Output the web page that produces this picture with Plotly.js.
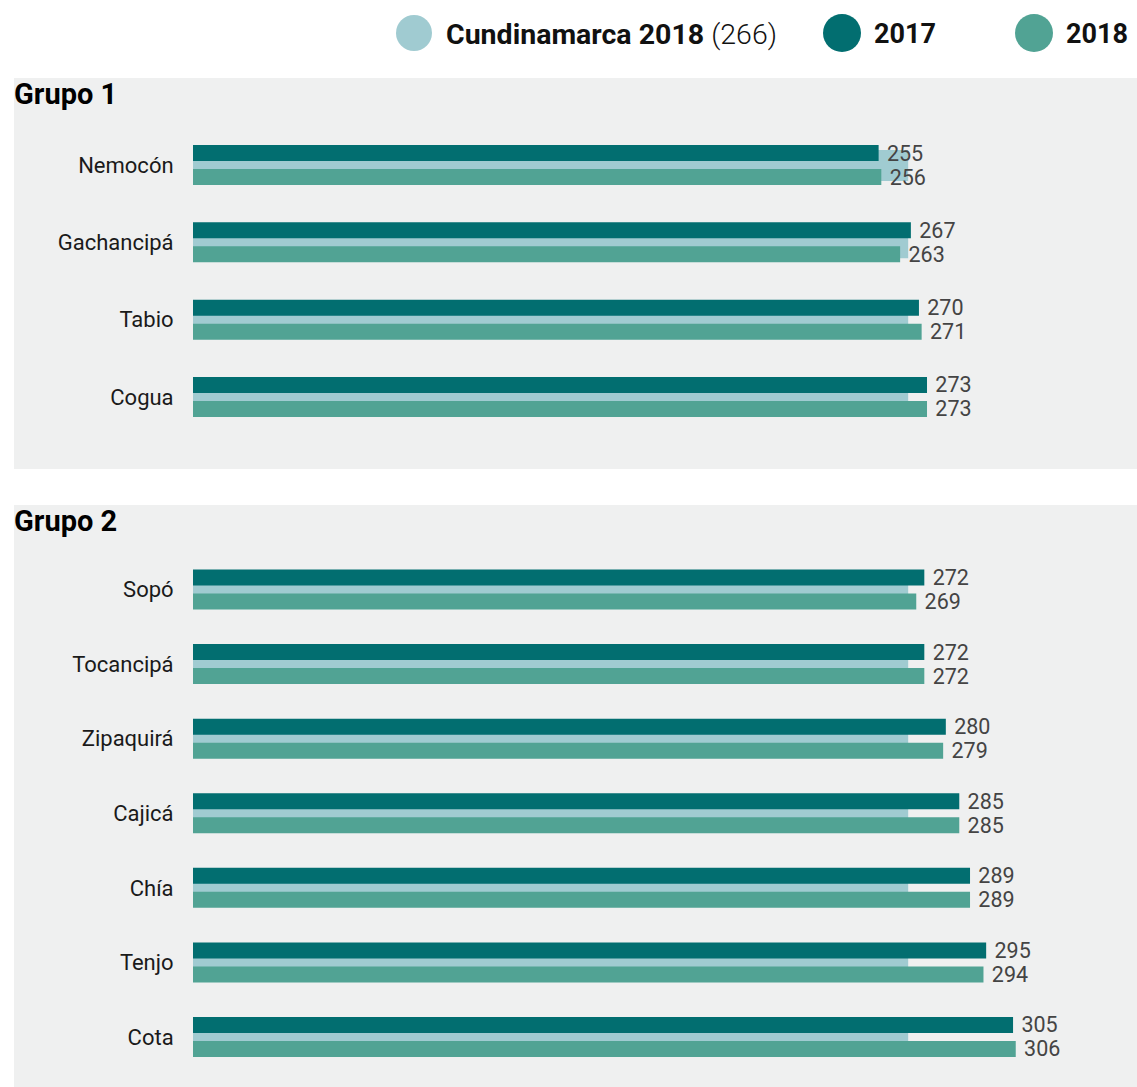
<!DOCTYPE html>
<html><head><meta charset="utf-8">
<script src="https://cdn.plot.ly/plotly-3.0.1.min.js"></script>
<style>html,body{margin:0;padding:0;background:#fff}</style>
</head><body><div id="chart" style="width:1137px;height:1087px"></div>
<script>
// ---- data ----
const group1Names = ['Nemocón', 'Gachancipá', 'Tabio', 'Cogua'];
const group1_2017 = [255, 267, 270, 273];
const group1_2018 = [256, 263, 271, 273];
const group1_cund = [266, 266, 266, 266];

const group2Names = ['Sopó', 'Tocancipá', 'Zipaquirá', 'Cajicá', 'Chía', 'Tenjo', 'Cota'];
const group2_2017 = [272, 272, 280, 285, 289, 295, 305];
const group2_2018 = [269, 272, 279, 285, 289, 294, 306];
const group2_cund = [266, 266, 266, 266, 266, 266, 266];

const cundLabel = 'Cundinamarca 2018';
const cundValue = 266;
const seriesNames = ['2017', '2018'];
const groupTitles = ['Grupo 1', 'Grupo 2'];

// ---- style ----
const W = 1137, H = 1087;
const C_DARK = '#026e70', C_MED = '#51a394', C_LIGHT = '#a0cbd1';
const BG = '#eff0f0';
const FONT = 'Roboto, "Noto Sans", sans-serif';

function py(p) { return 1 - p / H; }
function px(p) { return p / W; }

// panel geometry in pixels
const P1 = {top: 120, bottom: 440, c0: 165, step: 77.33};
const P2 = {top: 540, bottom: 1080, c0: 589.5, step: 74.58};

function makeTraces(names, v17, v18, vc, yax, P) {
  const u = P.step;
  const common = {type: 'bar', orientation: 'h', y: names, xaxis: 'x', yaxis: yax,
    hoverinfo: 'skip', cliponaxis: false, constraintext: 'none'};
  const tf = {family: FONT, size: 21.5, color: '#444'};
  return [
    Object.assign({}, common, {x: vc, name: cundLabel, marker: {color: C_LIGHT},
      width: 31 / u, offset: -15 / u}),
    Object.assign({}, common, {x: v17, name: seriesNames[0], marker: {color: C_DARK},
      width: 16 / u, offset: -20 / u, texttemplate: '\u00a0%{x}', textposition: 'outside',
      textfont: tf, outsidetextfont: tf}),
    Object.assign({}, common, {x: v18, name: seriesNames[1], marker: {color: C_MED},
      width: 16 / u, offset: 4 / u, texttemplate: '\u00a0%{x}', textposition: 'outside',
      textfont: tf, outsidetextfont: tf})
  ];
}

function yAxis(names, P) {
  return {
    type: 'category', categoryarray: names, categoryorder: 'array',
    domain: [py(P.bottom), py(P.top)],
    range: [(P.bottom - P.c0) / P.step, (P.top - P.c0) / P.step],
    anchor: 'x', showgrid: false, zeroline: false, showline: false,
    ticks: 'outside', ticklen: 14, tickcolor: 'rgba(0,0,0,0)',
    tickfont: {family: FONT, size: 22, color: '#1a1a1a'}, fixedrange: true
  };
}

const data = [].concat(
  makeTraces(group1Names, group1_2017, group1_2018, group1_cund, 'y', P1),
  makeTraces(group2Names, group2_2017, group2_2018, group2_cund, 'y2', P2)
);

const shapes = [
  {type: 'rect', xref: 'paper', yref: 'paper', x0: px(14), x1: 1, y0: py(469), y1: py(78),
   fillcolor: BG, line: {width: 0}, layer: 'below'},
  {type: 'rect', xref: 'paper', yref: 'paper', x0: px(14), x1: 1, y0: py(1087), y1: py(505),
   fillcolor: BG, line: {width: 0}, layer: 'below'},
  {type: 'circle', xref: 'paper', yref: 'paper', x0: px(396), x1: px(432), y0: py(51), y1: py(15),
   fillcolor: C_LIGHT, line: {width: 0}},
  {type: 'circle', xref: 'paper', yref: 'paper', x0: px(823), x1: px(861), y0: py(52), y1: py(14),
   fillcolor: C_DARK, line: {width: 0}},
  {type: 'circle', xref: 'paper', yref: 'paper', x0: px(1015), x1: px(1053), y0: py(52), y1: py(14),
   fillcolor: C_MED, line: {width: 0}}
];

const legFont = {family: FONT, size: 27, color: '#111'};
const annotations = [
  {xref: 'paper', yref: 'paper', x: px(444), y: py(34), xanchor: 'left', yanchor: 'middle',
   showarrow: false, font: {family: FONT, size: 28.5, color: '#111'},
   text: '<b>' + cundLabel + '</b> <span style="font-weight:300">(' + cundValue + ')</span>'},
  {xref: 'paper', yref: 'paper', x: px(872), y: py(34), xanchor: 'left', yanchor: 'middle',
   showarrow: false, font: legFont, text: '<b>' + seriesNames[0] + '</b>'},
  {xref: 'paper', yref: 'paper', x: px(1064), y: py(34), xanchor: 'left', yanchor: 'middle',
   showarrow: false, font: legFont, text: '<b>' + seriesNames[1] + '</b>'},
  {xref: 'paper', yref: 'paper', x: px(12), y: py(94), xanchor: 'left', yanchor: 'middle',
   showarrow: false, font: {family: FONT, size: 29, color: '#000'}, text: '<b>' + groupTitles[0] + '</b>'},
  {xref: 'paper', yref: 'paper', x: px(12), y: py(521), xanchor: 'left', yanchor: 'middle',
   showarrow: false, font: {family: FONT, size: 29, color: '#000'}, text: '<b>' + groupTitles[1] + '</b>'}
];

const layout = {
  width: W, height: H,
  margin: {l: 0, r: 0, t: 0, b: 0, pad: 0},
  paper_bgcolor: '#ffffff', plot_bgcolor: 'rgba(0,0,0,0)',
  barmode: 'overlay', showlegend: false,
  xaxis: {domain: [px(193), 1], range: [0, 351.1], visible: false, fixedrange: true},
  yaxis: yAxis(group1Names, P1),
  yaxis2: yAxis(group2Names, P2),
  shapes: shapes, annotations: annotations,
  font: {family: FONT}
};

Plotly.newPlot('chart', data, layout, {displayModeBar: false, staticPlot: true});
</script></body></html>
